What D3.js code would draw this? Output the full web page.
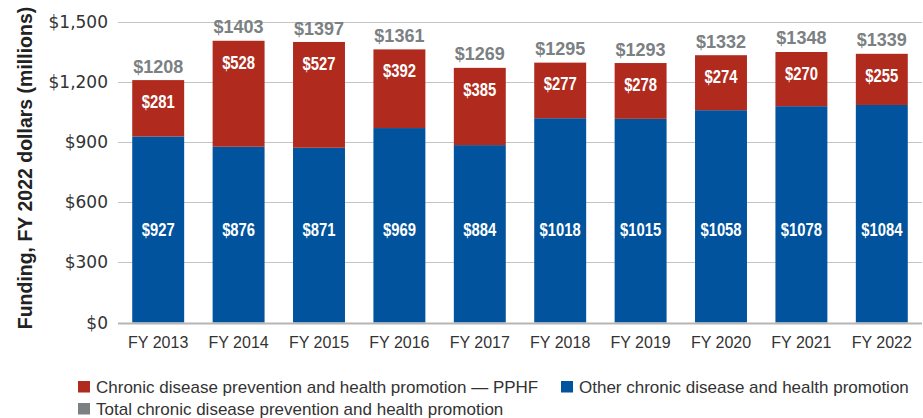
<!DOCTYPE html>
<html>
<head>
<meta charset="utf-8">
<script src="https://cdn.jsdelivr.net/npm/d3@7"></script>
<style>
  body { margin: 0; background: #fff; }
  svg { display: block; }
</style>
</head>
<body>
<div id="chart"></div>
<script>
// ----- Data -----
const years = ["FY 2013", "FY 2014", "FY 2015", "FY 2016", "FY 2017", "FY 2018", "FY 2019", "FY 2020", "FY 2021", "FY 2022"];
const pphf = [281, 528, 527, 392, 385, 277, 278, 274, 270, 255];
const other = [927, 876, 871, 969, 884, 1018, 1015, 1058, 1078, 1084];
const totals = [1208, 1403, 1397, 1361, 1269, 1295, 1293, 1332, 1348, 1339];
const yTicks = [0, 300, 600, 900, 1200, 1500];
const legendItems = [
    { key: "pphf", label: "Chronic disease prevention and health promotion \u2014 PPHF" },
    { key: "other", label: "Other chronic disease and health promotion" },
    { key: "total", label: "Total chronic disease prevention and health promotion" }
];

const width = 923;
const height = 418;
const margin = { top: 21.5, right: 1, bottom: 95, left: 118 };

const colors = { pphf: "#b02b1e", other: "#00539c", total: "#7b8083" };

const svg = d3.select("#chart")
    .append("svg")
    .attr("width", width)
    .attr("height", height);

const data = years.map((y, i) => ({ year: y, pphf: pphf[i], other: other[i], total: totals[i] }));

const x = d3.scaleBand()
    .domain(years)
    .range([margin.left, width - margin.right])
    .paddingInner(0.354)
    .paddingOuter(0.177);

const y = d3.scaleLinear()
    .domain([0, 1500])
    .range([height - margin.bottom - 0.5, margin.top]);

// gridlines
svg.append("g")
    .selectAll("line")
    .data(yTicks.slice(1))
    .enter().append("line")
    .attr("x1", margin.left)
    .attr("x2", width - margin.right)
    .attr("y1", d => Math.round(y(d)) + 0.5)
    .attr("y2", d => Math.round(y(d)) + 0.5)
    .style("stroke", "#c4c4c4")
    .style("stroke-width", 1.2);

// y labels
svg.append("g")
    .selectAll("text")
    .data(yTicks)
    .enter().append("text")
    .attr("x", margin.left - 10)
    .attr("y", d => y(d))
    .attr("dy", "0.36em")
    .attr("text-anchor", "end")
    .style("font-family", "'DejaVu Sans', sans-serif")
    .style("font-size", "17px")
    .style("fill", "#333")
    .text(d => "$" + d3.format(",")(d));

// stacked bars
const stack = d3.stack().keys(["other", "pphf"]);
const series = stack(data);

svg.append("g")
    .selectAll("g")
    .data(series)
    .enter().append("g")
    .style("fill", d => colors[d.key])
    .selectAll("rect")
    .data(d => d)
    .enter().append("rect")
    .attr("x", d => x(d.data.year))
    .attr("width", x.bandwidth())
    .attr("y", d => y(d[1]))
    .attr("height", d => y(d[0]) - y(d[1]));

// baseline
svg.append("line")
    .attr("x1", margin.left)
    .attr("x2", width - margin.right)
    .attr("y1", y(0) + 1)
    .attr("y2", y(0) + 1)
    .style("stroke", "#b5b5b5")
    .style("stroke-width", 2);

// condensed white labels inside the bars
function barLabel(sel, getY, getText) {
    sel.enter().append("text")
        .attr("transform", d => `translate(${x(d.year) + x.bandwidth() / 2}, ${getY(d)}) scale(0.78, 1)`)
        .attr("dy", "0.36em")
        .attr("text-anchor", "middle")
        .style("font-family", "'Liberation Sans', sans-serif")
        .style("font-weight", "bold")
        .style("font-size", "19px")
        .style("fill", "#fff")
        .text(getText);
}

barLabel(svg.append("g").selectAll("text").data(data), d => y(465), d => "$" + d.other);
barLabel(svg.append("g").selectAll("text").data(data), d => y(d.total) + 21, d => "$" + d.pphf);

// totals above bars
svg.append("g")
    .selectAll("text")
    .data(data)
    .enter().append("text")
    .attr("x", d => x(d.year) + x.bandwidth() / 2)
    .attr("y", d => y(d.total) - 14)
    .attr("dy", "0.36em")
    .attr("text-anchor", "middle")
    .style("font-family", "'Liberation Sans', sans-serif")
    .style("font-weight", "bold")
    .style("font-size", "18px")
    .style("fill", colors.total)
    .text(d => "$" + d.total);

// x labels
svg.append("g")
    .selectAll("text")
    .data(years)
    .enter().append("text")
    .attr("x", d => x(d) + x.bandwidth() / 2)
    .attr("y", y(0) + 20)
    .attr("dy", "0.36em")
    .attr("text-anchor", "middle")
    .style("font-family", "'Liberation Sans', sans-serif")
    .style("font-size", "16px")
    .style("fill", "#333")
    .text(d => d);

// y axis title
svg.append("text")
    .attr("transform", `translate(25, 168) rotate(-90)`)
    .attr("dy", "0.36em")
    .attr("text-anchor", "middle")
    .style("font-family", "'Liberation Sans', sans-serif")
    .style("font-weight", "bold")
    .style("font-size", "19.5px")
    .style("fill", "#222")
    .text("Funding, FY 2022 dollars (millions)");

// legend
const legendPos = [[78, 381], [561, 381], [78, 403]];

const legend = svg.append("g")
    .selectAll("g")
    .data(legendItems)
    .enter().append("g")
    .attr("transform", (d, i) => `translate(${legendPos[i][0]}, ${legendPos[i][1]})`);

legend.append("rect")
    .attr("width", 12)
    .attr("height", 11.5)
    .style("fill", d => colors[d.key]);

legend.append("text")
    .attr("x", 18)
    .attr("y", 6)
    .attr("dy", "0.36em")
    .style("font-family", "'Liberation Sans', sans-serif")
    .style("font-size", "17px")
    .style("fill", "#333")
    .text(d => d.label);
</script>
</body>
</html>
